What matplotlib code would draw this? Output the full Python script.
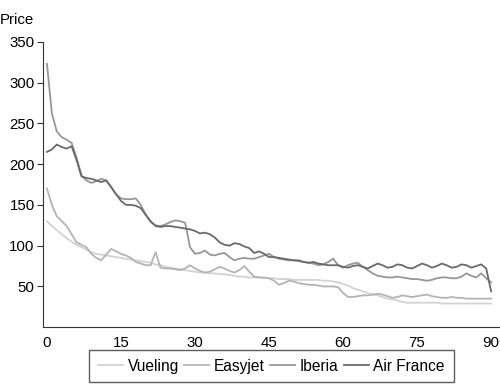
import numpy as np
import matplotlib
matplotlib.use('Agg')
import matplotlib.pyplot as plt

plt.rcParams['font.family'] = ['Liberation Sans', 'DejaVu Sans']

days = list(range(0, 91))

vueling = [130, 124, 119, 114, 109, 105, 101, 98, 95, 92,
           90, 89, 88, 87, 86, 85, 84, 83, 82, 81,
           80, 79, 77, 76, 74, 73, 72, 71, 70, 69,
           68, 67, 67, 66, 66, 65, 65, 64, 63, 62,
           62, 61, 61, 61, 60, 60, 60, 59, 59, 59,
           58, 58, 58, 58, 58, 58, 57, 57, 56, 55,
           53, 51, 48, 46, 44, 42, 40, 39, 37, 35,
           34, 33, 31, 30, 30, 30, 30, 30, 30, 30,
           29, 29, 29, 29, 29, 29, 29, 29, 29, 29, 29]

easyjet = [170, 150, 136, 130, 124, 114, 104, 101, 98, 90,
           85, 82, 89, 96, 93, 90, 88, 85, 80, 78,
           76, 76, 92, 73, 72, 72, 71, 70, 72, 76,
           72, 69, 67, 68, 71, 74, 72, 69, 67, 70,
           75, 68, 62, 61, 61, 60, 57, 52, 54, 57,
           56, 54, 53, 52, 52, 51, 50, 50, 50, 49,
           42, 37, 37, 38, 39, 39, 40, 41, 40, 38,
           36, 37, 39, 38, 37, 38, 39, 40, 38, 37,
           36, 36, 37, 36, 36, 35, 35, 35, 35, 35, 35]

iberia = [323, 262, 240, 233, 230, 226, 208, 186, 180, 177,
          179, 182, 180, 172, 163, 158, 157, 157, 158, 150,
          138, 129, 125, 124, 126, 129, 131, 130, 128, 98,
          90, 91, 94, 89, 88, 90, 91, 86, 82, 84,
          85, 84, 84, 86, 88, 90, 86, 84, 83, 82,
          82, 81, 80, 79, 78, 76, 77, 80, 84, 76,
          73, 76, 78, 79, 74, 70, 66, 63, 62, 61,
          61, 62, 61, 60, 59, 59, 58, 57, 58, 60,
          61, 61, 60, 60, 62, 66, 63, 61, 66, 60, 55]

airfrance = [215, 218, 224, 221, 219, 222, 205, 185, 183, 182,
             180, 178, 180, 172, 163, 155, 150, 150, 149, 146,
             138, 130, 124, 123, 124, 124, 123, 122, 121, 120,
             118, 115, 116, 114, 110, 104, 101, 100, 103, 102,
             99, 97, 91, 93, 90, 86, 86, 85, 84, 83,
             82, 82, 80, 79, 80, 78, 77, 76, 76, 76,
             74, 73, 75, 76, 74, 72, 75, 78, 76, 73,
             74, 77, 76, 73, 72, 75, 78, 76, 73, 75,
             78, 76, 73, 74, 77, 76, 73, 75, 77, 72, 44]

series = [('Vueling', vueling, '#d2d2d2'),
          ('Easyjet', easyjet, '#b4b4b4'),
          ('Iberia', iberia, '#979797'),
          ('Air France', airfrance, '#6a6a6a')]

fig = plt.figure(figsize=(5, 3.84), dpi=100)
ax = fig.add_axes([0.086, 0.148, 0.914, 0.743])

for name, vals, col in series:
    ax.plot(days, vals, color=col, lw=1.3, label=name)

ax.set_xlim(-0.8, 91.8)
ax.set_ylim(0, 350)
ax.set_xticks([0, 15, 30, 45, 60, 75, 90])
ax.set_yticks([50, 100, 150, 200, 250, 300, 350])
ax.spines['top'].set_visible(False)
ax.spines['right'].set_visible(False)
ax.spines['left'].set_color('#333333')
ax.spines['bottom'].set_color('#333333')
ax.tick_params(axis='y', length=4, color='#333333', labelsize=10.8, pad=2)
ax.tick_params(axis='x', length=0, labelsize=10.8, pad=6)

fig.text(0.0, 0.948, 'Price', fontsize=10.8, ha='left', va='center')

leg = fig.legend(loc='lower center', bbox_to_anchor=(0.543, 0.004), ncol=4,
                 fontsize=11.2, frameon=True, fancybox=False, handlelength=1.6,
                 handletextpad=0.3, columnspacing=0.35, borderpad=0.55,
                 borderaxespad=0.0)
leg.get_frame().set_edgecolor('#333333')
leg.get_frame().set_linewidth(1.0)

fig.savefig('out.png', dpi=100)
